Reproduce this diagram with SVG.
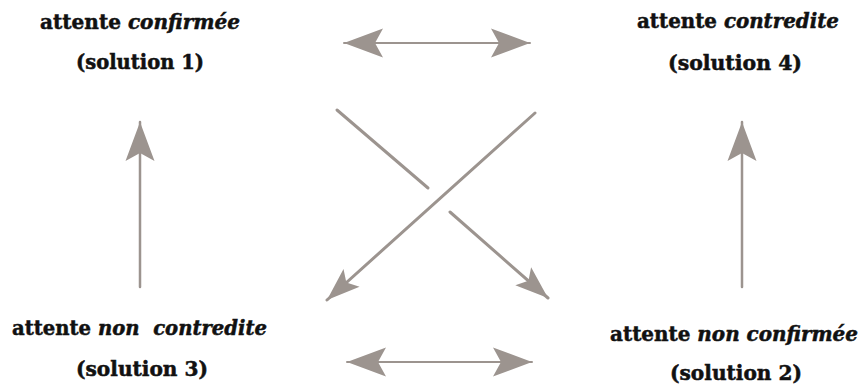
<svg xmlns="http://www.w3.org/2000/svg" width="863" height="389" viewBox="0 0 863 389">
<style>
.t{font-family:"DejaVu Serif","Liberation Serif",serif;font-weight:bold;font-size:20px;fill:#111;stroke:#111;stroke-width:0.5;}
.i{font-style:italic;}
.c{stroke:#9c948f;fill:none;stroke-linecap:round;}
</style>
<defs>
<marker id="ah" viewBox="-40 -16 42 32" refX="0" refY="0" markerWidth="42" markerHeight="32" markerUnits="userSpaceOnUse" orient="auto-start-reverse">
<path d="M0,0 L-39,-14.5 L-31,0 L-39,14.5 Z" fill="#9c948f"/>
</marker>
<marker id="ahs" viewBox="-34 -14 36 28" refX="0" refY="0" markerWidth="36" markerHeight="28" markerUnits="userSpaceOnUse" orient="auto">
<path d="M0,0 L-33,-12 L-26,0 L-33,12 Z" fill="#9c948f"/>
</marker>
</defs>
<g id="connectors">
<line class="c" x1="344" y1="43" x2="530" y2="43" stroke-width="2" marker-start="url(#ah)" marker-end="url(#ah)"/>
<line class="c" x1="347" y1="362" x2="532" y2="362" stroke-width="2" marker-start="url(#ah)" marker-end="url(#ah)"/>
<line class="c" x1="140" y1="287" x2="140" y2="122" stroke-width="2.5" marker-end="url(#ah)"/>
<line class="c" x1="742" y1="287" x2="742" y2="122" stroke-width="2.5" marker-end="url(#ah)"/>
<line class="c" x1="337" y1="110" x2="428" y2="188" stroke-width="3"/>
<line class="c" x1="450" y1="212" x2="548" y2="298" stroke-width="3" marker-end="url(#ahs)"/>
<line class="c" x1="535" y1="113" x2="327" y2="300" stroke-width="3" marker-end="url(#ahs)"/>
</g>
<g id="n1">
<text class="t" x="40" y="29" textLength="200" lengthAdjust="spacingAndGlyphs">attente <tspan class="i">confirmée</tspan></text>
<text class="t" x="76" y="69" textLength="128" lengthAdjust="spacingAndGlyphs">(solution 1)</text>
</g>
<g id="n4">
<text class="t" x="637" y="28" textLength="202" lengthAdjust="spacingAndGlyphs">attente <tspan class="i">contredite</tspan></text>
<text class="t" x="668" y="70" textLength="134" lengthAdjust="spacingAndGlyphs">(solution 4)</text>
</g>
<g id="n3">
<text class="t" x="12" y="335" textLength="255" lengthAdjust="spacingAndGlyphs" xml:space="preserve">attente <tspan class="i">non  contredite</tspan></text>
<text class="t" x="76" y="376" textLength="132" lengthAdjust="spacingAndGlyphs">(solution 3)</text>
</g>
<g id="n2">
<text class="t" x="610" y="341" textLength="248" lengthAdjust="spacingAndGlyphs">attente <tspan class="i">non confirmée</tspan></text>
<text class="t" x="670" y="380" textLength="132" lengthAdjust="spacingAndGlyphs">(solution 2)</text>
</g>
</svg>
